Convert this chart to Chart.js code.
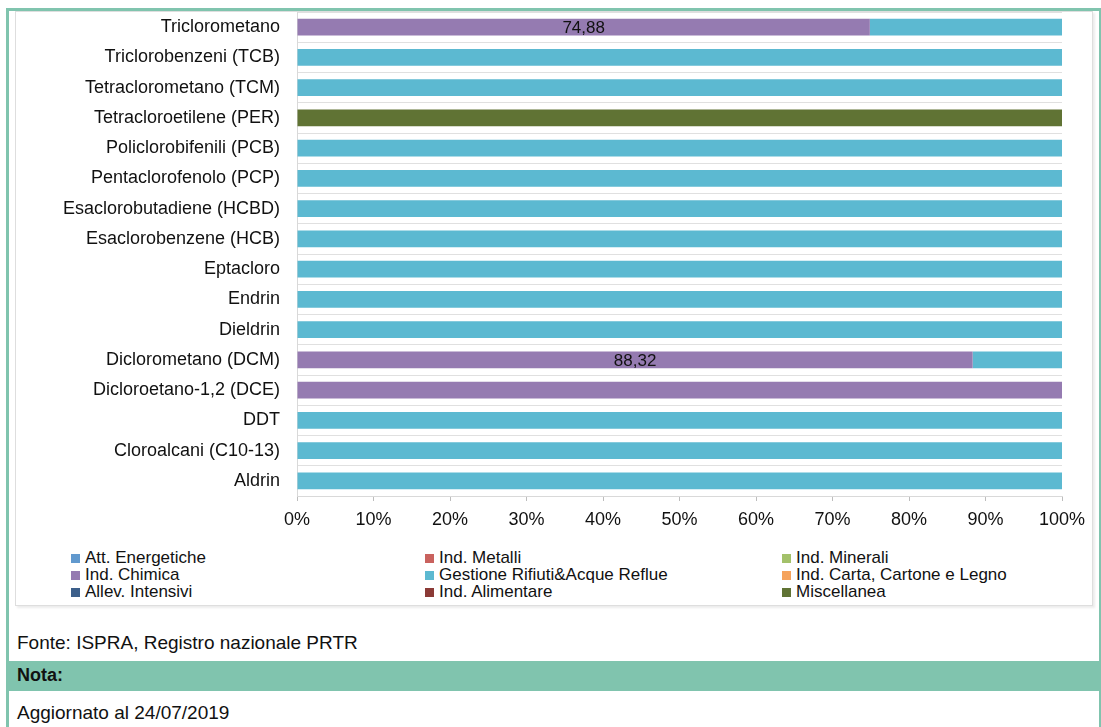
<!DOCTYPE html>
<html>
<head>
<meta charset="utf-8">
<script src="https://cdn.jsdelivr.net/npm/chart.js@4/dist/chart.umd.min.js"></script>
<style>
  body { margin: 0; background: #fff; font-family: "Liberation Sans", Arial, sans-serif; color: #111; overflow: hidden; }
  .g { position: absolute; background: #80C4AE; }
  #box { position: absolute; left: 15px; top: 11px; width: 1076px; height: 593px; border: 1px solid #dedede; box-shadow: 2px 2px 2px #ececec; }
  #wrap { position: absolute; left: 0; top: 0; width: 1076px; height: 530px; }
  #legend { position: absolute; left: 55px; top: 537px; display: grid; grid-template-columns: 354px 357px 300px; font-size: 17px; line-height: 17px; }
  #legend div { position: relative; padding-left: 14px; white-space: nowrap; }
  #legend span { position: absolute; left: 0; top: 5px; width: 9px; height: 9px; }
  .txt { position: absolute; left: 17px; font-size: 19px; line-height: 19px; white-space: nowrap; }
</style>
</head>
<body>
<div class="g" style="left:6px;top:8px;width:1095px;height:3px"></div>
<div class="g" style="left:6px;top:8px;width:3px;height:719px"></div>
<div class="g" style="left:1099px;top:8px;width:2px;height:719px"></div>
<div id="box">
  <div id="wrap"><canvas id="chart"></canvas></div>
  <div id="legend"></div>
</div>
<div class="txt" style="top:633px">Fonte: ISPRA, Registro nazionale PRTR</div>
<div class="g" style="left:9px;top:661px;width:1092px;height:30px"></div>
<div class="txt" style="top:666px;font-weight:bold;font-size:18px">Nota:</div>
<div class="txt" style="top:703px">Aggiornato al 24/07/2019</div>
<script>
const categories = ['Triclorometano', 'Triclorobenzeni (TCB)', 'Tetraclorometano (TCM)', 'Tetracloroetilene (PER)',
  'Policlorobifenili (PCB)', 'Pentaclorofenolo (PCP)', 'Esaclorobutadiene (HCBD)', 'Esaclorobenzene (HCB)',
  'Eptacloro', 'Endrin', 'Dieldrin', 'Diclorometano (DCM)', 'Dicloroetano-1,2 (DCE)', 'DDT',
  'Cloroalcani (C10-13)', 'Aldrin'];

const seriesNames = ['Att. Energetiche', 'Ind. Metalli', 'Ind. Minerali', 'Ind. Chimica',
  'Gestione Rifiuti&Acque Reflue', 'Ind. Carta, Cartone e Legno', 'Allev. Intensivi', 'Ind. Alimentare', 'Miscellanea'];
const seriesColors = ['#6199CE', '#C9625E', '#A3C16A', '#957BB1', '#5CB9D1', '#F5A35C', '#3C5F8A', '#8B3A36', '#607334'];

const attEnergetiche = [0, 0, 0, 0, 0, 0, 0, 0, 0, 0, 0, 0, 0, 0, 0, 0];
const indMetalli     = [0, 0, 0, 0, 0, 0, 0, 0, 0, 0, 0, 0, 0, 0, 0, 0];
const indMinerali    = [0, 0, 0, 0, 0, 0, 0, 0, 0, 0, 0, 0, 0, 0, 0, 0];
const indChimica     = [74.88, 0, 0, 0, 0, 0, 0, 0, 0, 0, 0, 88.32, 100, 0, 0, 0];
const gestioneRifiuti = [25.12, 100, 100, 0, 100, 100, 100, 100, 100, 100, 100, 11.68, 0, 100, 100, 100];
const indCarta       = [0, 0, 0, 0, 0, 0, 0, 0, 0, 0, 0, 0, 0, 0, 0, 0];
const allevIntensivi = [0, 0, 0, 0, 0, 0, 0, 0, 0, 0, 0, 0, 0, 0, 0, 0];
const indAlimentare  = [0, 0, 0, 0, 0, 0, 0, 0, 0, 0, 0, 0, 0, 0, 0, 0];
const miscellanea    = [0, 0, 0, 100, 0, 0, 0, 0, 0, 0, 0, 0, 0, 0, 0, 0];

const seriesValues = [attEnergetiche, indMetalli, indMinerali, indChimica, gestioneRifiuti,
  indCarta, allevIntensivi, indAlimentare, miscellanea];

// legend built from the series lists
const legend = document.getElementById('legend');
seriesNames.forEach((name, i) => {
  const d = document.createElement('div');
  d.innerHTML = '<span style="background:' + seriesColors[i] + '"></span>' + name.replace('&', '&amp;');
  legend.appendChild(d);
});

// value labels for partial Ind. Chimica segments
const segLabels = {
  id: 'segLabels',
  afterDatasetsDraw(chart) {
    const ctx = chart.ctx;
    const meta = chart.getDatasetMeta(3);
    ctx.save();
    ctx.font = '17px "Liberation Sans", Arial, sans-serif';
    ctx.fillStyle = '#111';
    ctx.textAlign = 'center';
    ctx.textBaseline = 'middle';
    meta.data.forEach((bar, i) => {
      const v = indChimica[i];
      if (v > 0 && v < 100) {
        const x = (bar.x + bar.base) / 2;
        ctx.fillText(v.toFixed(2).replace('.', ','), x, bar.y + 1);
      }
    });
    ctx.restore();
  }
};

new Chart(document.getElementById('chart'), {
  type: 'bar',
  data: {
    labels: categories,
    datasets: seriesNames.map((name, i) => ({
      label: name,
      data: seriesValues[i],
      backgroundColor: seriesColors[i],
      barPercentage: 0.56,
      categoryPercentage: 1
    }))
  },
  options: {
    indexAxis: 'y',
    responsive: true,
    maintainAspectRatio: false,
    animation: false,
    layout: { padding: { top: 0, right: 30, left: 0, bottom: 0 } },
    plugins: { legend: { display: false }, tooltip: { enabled: false } },
    scales: {
      x: {
        stacked: true,
        min: 0,
        max: 100,
        ticks: {
          stepSize: 10,
          color: '#111',
          padding: 8,
          font: { family: '"Liberation Sans", Arial, sans-serif', size: 18 },
          callback: v => v + '%'
        },
        grid: { drawOnChartArea: false, drawTicks: true, tickLength: 5, color: '#BDBDBD' },
        border: { color: '#D9D9D9' },
        afterFit: s => { s.height = 46; s.paddingLeft = 0; s.paddingRight = 0; }
      },
      y: {
        stacked: true,
        ticks: {
          color: '#111',
          padding: 17,
          font: { family: '"Liberation Sans", Arial, sans-serif', size: 18 }
        },
        grid: { drawTicks: false, color: '#E0E0E0' },
        border: { color: '#D9D9D9' },
        afterFit: s => { s.width = 281; s.paddingTop = 0; s.paddingBottom = 0; }
      }
    }
  },
  plugins: [segLabels]
});
</script>
</body>
</html>
